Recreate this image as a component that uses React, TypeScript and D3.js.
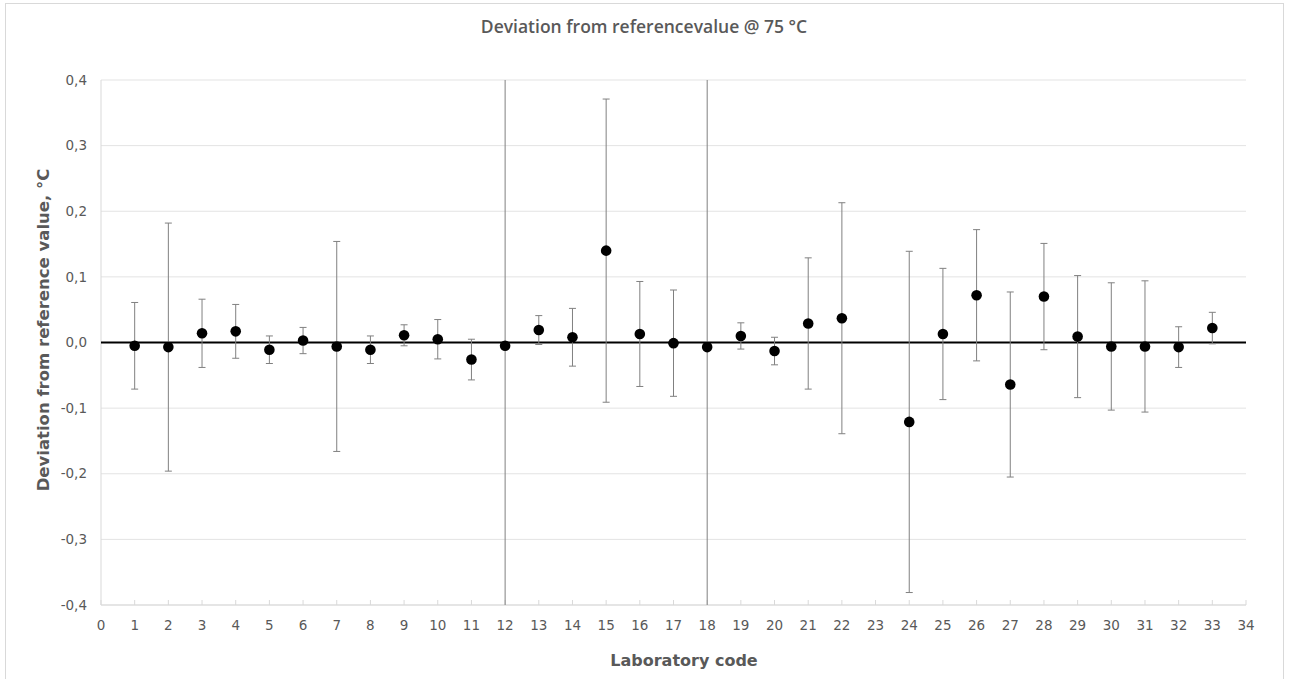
import { useMemo } from "react";
import * as d3 from "d3";

// lab codes, deviation from reference value (°C) and expanded uncertainty (±)
const labs = [1, 2, 3, 4, 5, 6, 7, 8, 9, 10, 11, 12, 13, 14, 15, 16, 17, 18, 19, 20, 21, 22, 24, 25, 26, 27, 28, 29, 30, 31, 32, 33];
const deviation = [-0.005, -0.007, 0.014, 0.017, -0.011, 0.003, -0.006, -0.011, 0.011, 0.005, -0.026, -0.005, 0.019, 0.008, 0.140, 0.013, -0.001, -0.007, 0.010, -0.013, 0.029, 0.037, -0.121, 0.013, 0.072, -0.064, 0.070, 0.009, -0.006, -0.006, -0.007, 0.022];
const uncertainty = [0.066, 0.189, 0.052, 0.041, 0.021, 0.020, 0.160, 0.021, 0.016, 0.030, 0.031, 0.6, 0.022, 0.044, 0.231, 0.080, 0.081, 0.6, 0.020, 0.021, 0.100, 0.176, 0.260, 0.100, 0.100, 0.141, 0.081, 0.093, 0.097, 0.100, 0.031, 0.024];
const yTicks = [-0.4, -0.3, -0.2, -0.1, 0, 0.1, 0.2, 0.3, 0.4];
const xTicks = d3.range(0, 35);

const W = 1291;
const H = 679;
const margin = { left: 101, right: 45, top: 80, bottom: 74 };

const tickFont = "'DejaVu Sans', Verdana, sans-serif";
const textGray = "#595959";

export default function App() {
  const x = useMemo(() => d3.scaleLinear().domain([0, 34]).range([margin.left, W - margin.right]), []);
  const y = useMemo(() => d3.scaleLinear().domain([-0.4, 0.4]).range([H - margin.bottom, margin.top]), []);
  const fmt = (v: number) => d3.format(".1f")(v).replace(".", ",").replace("−", "-");

  const points = labs.map((lab, i) => ({ lab, v: deviation[i], u: uncertainty[i] }));
  const [x0, x1] = x.range();
  const [yb, yt] = y.range();

  return (
    <div style={{ position: "absolute", left: 0, top: 0, width: W, height: H, background: "#fff" }}>
      <svg width={W} height={H} style={{ display: "block" }}>
        <defs>
          <clipPath id="plot">
            <rect x={x0} y={yt} width={x1 - x0} height={yb - yt} />
          </clipPath>
        </defs>
        <rect x={5.5} y={3.5} width={1278} height={H + 10} fill="#fff" stroke="#d9d9d9" />

        <text x={644} y={33} textAnchor="middle" fontFamily="'Open Sans', sans-serif" fontWeight={600} fontSize={17.5} fill={textGray}>
          Deviation from referencevalue @ 75 °C
        </text>

        {/* gridlines */}
        {yTicks.map((t) => (
          <line key={t} x1={x0} x2={x1} y1={y(t)} y2={y(t)} stroke="#e3e3e3" strokeWidth={1} />
        ))}
        {/* y axis line */}
        <line x1={x0} x2={x0} y1={yt} y2={yb} stroke="#d9d9d9" />
        {/* x axis line + ticks */}
        <line x1={x0} x2={x1} y1={yb} y2={yb} stroke="#d9d9d9" />
        {xTicks.map((t) => (
          <line key={t} x1={x(t)} x2={x(t)} y1={yb} y2={yb - 5} stroke="#d9d9d9" />
        ))}

        {/* y tick labels */}
        {yTicks.map((t) => (
          <text key={t} x={87} y={y(t)} dy="0.35em" textAnchor="end" fontFamily={tickFont} fontSize={13.5} fill={textGray}>
            {fmt(t)}
          </text>
        ))}
        {/* x tick labels */}
        {xTicks.map((t) => (
          <text key={t} x={x(t)} y={630} textAnchor="middle" fontFamily={tickFont} fontSize={13.5} fill={textGray}>
            {t}
          </text>
        ))}

        {/* zero line */}
        <line x1={x0} x2={x1} y1={y(0)} y2={y(0)} stroke="#000" strokeWidth={2} />

        {/* error bars */}
        <g clipPath="url(#plot)" stroke="#808080" strokeWidth={1}>
          {points.map((p) => (
            <g key={p.lab}>
              <line x1={x(p.lab)} x2={x(p.lab)} y1={y(p.v + p.u)} y2={y(p.v - p.u)} />
              <line x1={x(p.lab) - 3.5} x2={x(p.lab) + 3.5} y1={y(p.v + p.u)} y2={y(p.v + p.u)} />
              <line x1={x(p.lab) - 3.5} x2={x(p.lab) + 3.5} y1={y(p.v - p.u)} y2={y(p.v - p.u)} />
            </g>
          ))}
        </g>

        {/* points */}
        {points.map((p) => (
          <circle key={p.lab} cx={x(p.lab)} cy={y(p.v)} r={5.3} fill="#000" />
        ))}

        {/* axis titles */}
        <text x={684} y={666} textAnchor="middle" fontFamily={tickFont} fontWeight="bold" fontSize={16} fill={textGray}>
          Laboratory code
        </text>
        <text
          transform={`translate(49, 330) rotate(-90)`}
          textAnchor="middle"
          fontFamily={tickFont}
          fontWeight="bold"
          fontSize={16.5}
          fill={textGray}
        >
          Deviation from reference value, °C
        </text>
      </svg>
    </div>
  );
}
